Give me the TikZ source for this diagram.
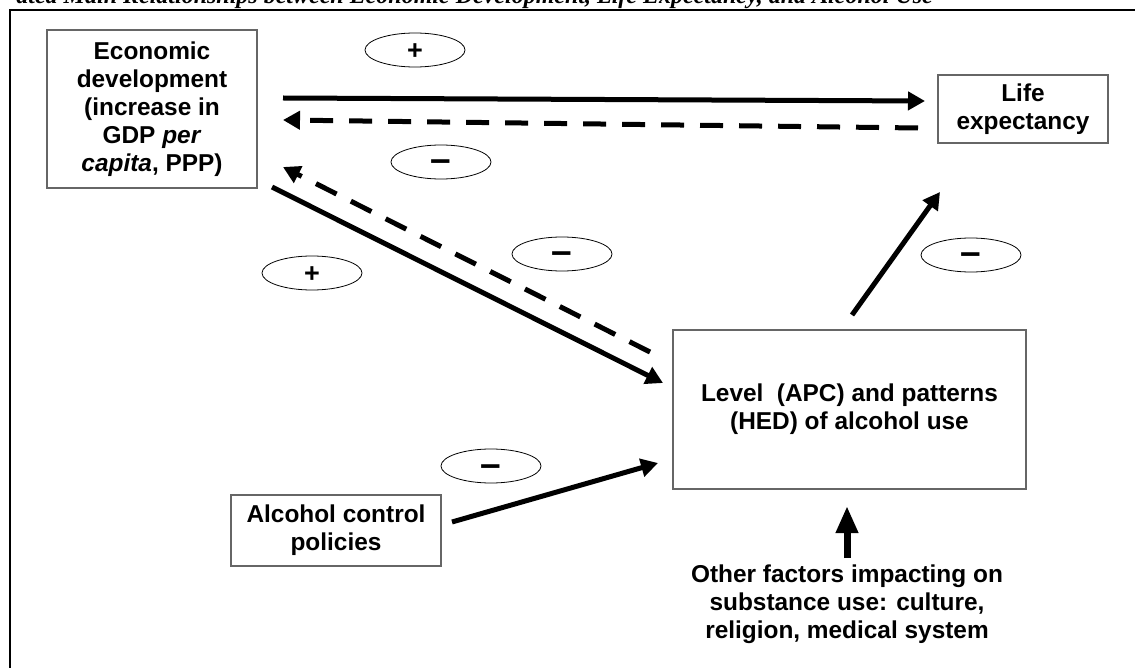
\documentclass[tikz,border=0pt]{standalone}
\usepackage{fontspec}
\setmainfont{Liberation Sans}
\newfontfamily\titlefont{Liberation Serif}
\usetikzlibrary{arrows.meta,shapes.geometric}

\begin{document}
\begin{tikzpicture}[x=1pt,y=-1pt,
  box/.style={draw=black!60,line width=1.1pt,inner sep=0pt,align=center,
    font=\fontsize{24.4}{28}\selectfont\bfseries},
  sign/.style={draw,ellipse,line width=0.8pt,inner sep=0pt,
    minimum width=100pt,minimum height=34pt},
  arr/.style={line width=5pt,-{Triangle[length=17pt,width=18pt]}},
  darr/.style={arr,dash pattern=on 23pt off 16pt}]

\useasboundingbox (0,0) rectangle (1135,668);
\clip (0,0) rectangle (1135,668);

% title, cut off at the top
\node[anchor=base east,inner sep=0pt,
  font=\titlefont\fontsize{24}{24}\selectfont\bfseries\itshape] (title) at (933,4)
  {ated Main Relationships between Economic Development, Life Expectancy, and Alcohol Use};
\draw[line width=2.6pt] (10,10) rectangle (1150,690);

% boxes
\node[box,minimum width=210pt,minimum height=158pt] (econ) at (152,109)
  {Economic\\development\\(increase in\\GDP \textit{per}\\\textit{capita}, PPP)};
\node[box,minimum width=170pt,minimum height=68pt] (life) at (1023,109)
  {Life\\expectancy};
\node[box,minimum width=353pt,minimum height=159pt] (alc) at (849.5,409.5)
  {Level\ \ (APC) and patterns\\(HED) of alcohol use};
\node[box,minimum width=210pt,minimum height=71pt] (policy) at (336,530.5)
  {Alcohol control\\policies};
\node[box,draw=none] (other) at (847,604)
  {Other factors impacting on\\substance use: culture,\\religion, medical system};

% signs
\node[sign] (s1) at (415,50) {\fontsize{27}{27}\selectfont\bfseries\raisebox{-9.3pt}[0pt][0pt]{+}};
\node[sign] (s2) at (441,162) {\fontsize{37}{37}\selectfont\bfseries\raisebox{-10pt}[0pt][0pt]{–}};
\node[sign] (s3) at (562,254) {\fontsize{37}{37}\selectfont\bfseries\raisebox{-10pt}[0pt][0pt]{–}};
\node[sign] (s4) at (312,273) {\fontsize{27}{27}\selectfont\bfseries\raisebox{-9.3pt}[0pt][0pt]{+}};
\node[sign] (s5) at (491,466) {\fontsize{37}{37}\selectfont\bfseries\raisebox{-10pt}[0pt][0pt]{–}};
\node[sign] (s6) at (971,255) {\fontsize{37}{37}\selectfont\bfseries\raisebox{-10pt}[0pt][0pt]{–}};

% arrow ends
\coordinate (e1) at (283,98);   \coordinate (l1) at (925,101);
\coordinate (l2) at (918,128);  \coordinate (e2) at (283,120);
\coordinate (e3) at (272,187);  \coordinate (a1) at (663,383);
\coordinate (a2) at (650,352);  \coordinate (e4) at (283,167);
\coordinate (p1) at (452,522);  \coordinate (a3) at (658,463);
\coordinate (a4) at (852,315);  \coordinate (l3) at (940,192);
\coordinate (o1) at (847,558);  \coordinate (a5) at (847,506);

\draw[arr] (e1) -- (l1);
\draw[darr] (l2) -- (e2);
\draw[arr] (e3) -- (a1);
\draw[darr] (a2) -- (e4);
\draw[arr] (p1) -- (a3);
\draw[arr] (a4) -- (l3);
\draw[line width=7pt,-{Triangle[length=27pt,width=21pt]}] (o1) -- (a5);

\end{tikzpicture}
\end{document}
